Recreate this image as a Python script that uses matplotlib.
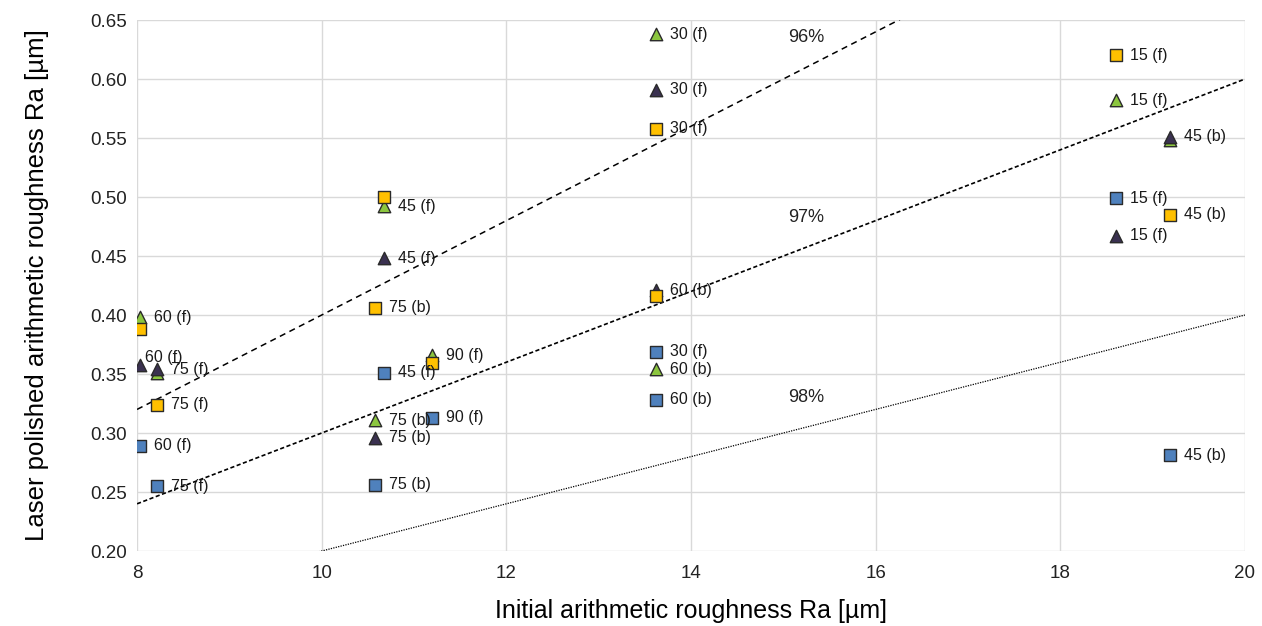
import matplotlib.pyplot as plt
import numpy as np

plt.rcParams['font.family'] = ['Liberation Sans', 'DejaVu Sans']

# initial roughness positions (x) shared by series
x_green = [8.03, 8.22, 10.675, 10.58, 11.195, 13.62, 13.62, 18.6, 19.19]
y_green = [0.398, 0.351, 0.492, 0.311, 0.366, 0.638, 0.354, 0.582, 0.548]
lab_green = ['60 (f)', None, '45 (f)', '75 (b)', '90 (f)', '30 (f)', '60 (b)', '15 (f)', None]

x_purple = [8.03, 8.22, 10.675, 10.58, 13.62, 13.62, 18.6, 19.19]
y_purple = [0.358, 0.354, 0.448, 0.296, 0.591, 0.421, 0.467, 0.551]
lab_purple = ['60 (f)', '75 (f)', '45 (f)', '75 (b)', '30 (f)', '60 (b)', '15 (f)', '45 (b)']

x_yellow = [8.03, 8.22, 10.675, 10.58, 11.195, 13.62, 13.62, 18.6, 19.19]
y_yellow = [0.388, 0.324, 0.500, 0.406, 0.359, 0.558, 0.416, 0.620, 0.485]
lab_yellow = [None, '75 (f)', None, '75 (b)', None, '30 (f)', None, '15 (f)', '45 (b)']

x_blue = [8.03, 8.22, 10.675, 10.58, 11.195, 13.62, 13.62, 18.6, 19.19]
y_blue = [0.289, 0.255, 0.351, 0.256, 0.313, 0.369, 0.328, 0.499, 0.281]
lab_blue = ['60 (f)', '75 (f)', '45 (f)', '75 (b)', '90 (f)', '30 (f)', '60 (b)', '15 (f)', '45 (b)']

# reduction lines: Ra_after = factor * Ra_initial
line_pct = ['96%', '97%', '98%']
line_factor = [0.04, 0.03, 0.02]
line_style = [(0, (4, 3)), (0, (2.5, 1.5)), (0, (1, 1))]
line_width = [1.1, 1.2, 0.9]

fig = plt.figure(figsize=(12.62, 6.26), dpi=100)
ax = fig.add_axes([0.1086, 0.1198, 0.8779, 0.8482])

xx = np.linspace(8, 20, 200)
for pct, f, ls, lw in zip(line_pct, line_factor, line_style, line_width):
    ax.plot(xx, f * xx, color='black', linestyle=ls, linewidth=lw, zorder=2)
    ax.text(15.25, f * 15.25 + 0.025, pct, fontsize=13,
            ha='center', va='center', color='#222222')

def draw(xs, ys, labels, marker, color, size, z, offsets=None):
    ax.scatter(xs, ys, marker=marker, s=size, c=color, edgecolors='#2a2a2a',
               linewidths=1.0, zorder=z)
    for i, (x, y, lab) in enumerate(zip(xs, ys, labels)):
        if lab:
            off = (offsets or {}).get(i, (10, 0))
            ax.annotate(lab, (x, y), xytext=off, textcoords='offset points',
                        fontsize=11.5, va='center', color='#1a1a1a', zorder=6)

draw(x_green, y_green, lab_green, '^', '#8cc63f', 80, 3)
draw(x_purple, y_purple, lab_purple, '^', '#3a3150', 80, 3.5, offsets={0: (4, 5)})
draw(x_yellow, y_yellow, lab_yellow, 's', '#ffc000', 75, 4)
draw(x_blue, y_blue, lab_blue, 's', '#4f81bd', 75, 4.5)

ax.set_xlim(8, 20)
ax.set_ylim(0.20, 0.65)
ax.set_xticks(np.arange(8, 21, 2))
ax.set_yticks(np.arange(0.20, 0.651, 0.05))
ax.yaxis.set_major_formatter(plt.FuncFormatter(lambda v, p: f'{v:.2f}'))
ax.grid(color='#d9d9d9', linewidth=1.0, zorder=0)
ax.set_axisbelow(True)
for s in ax.spines.values():
    s.set_visible(False)
ax.tick_params(axis='x', length=0, labelsize=13.5, pad=10, colors='#222222')
ax.tick_params(axis='y', length=0, labelsize=13.5, pad=7, colors='#222222')
ax.set_xlabel('Initial arithmetic roughness Ra [µm]', fontsize=18, labelpad=12)
ax.set_ylabel('Laser polished arithmetic roughness Ra [µm]', fontsize=18.5, labelpad=30)

fig.savefig('out.png', dpi=100)
